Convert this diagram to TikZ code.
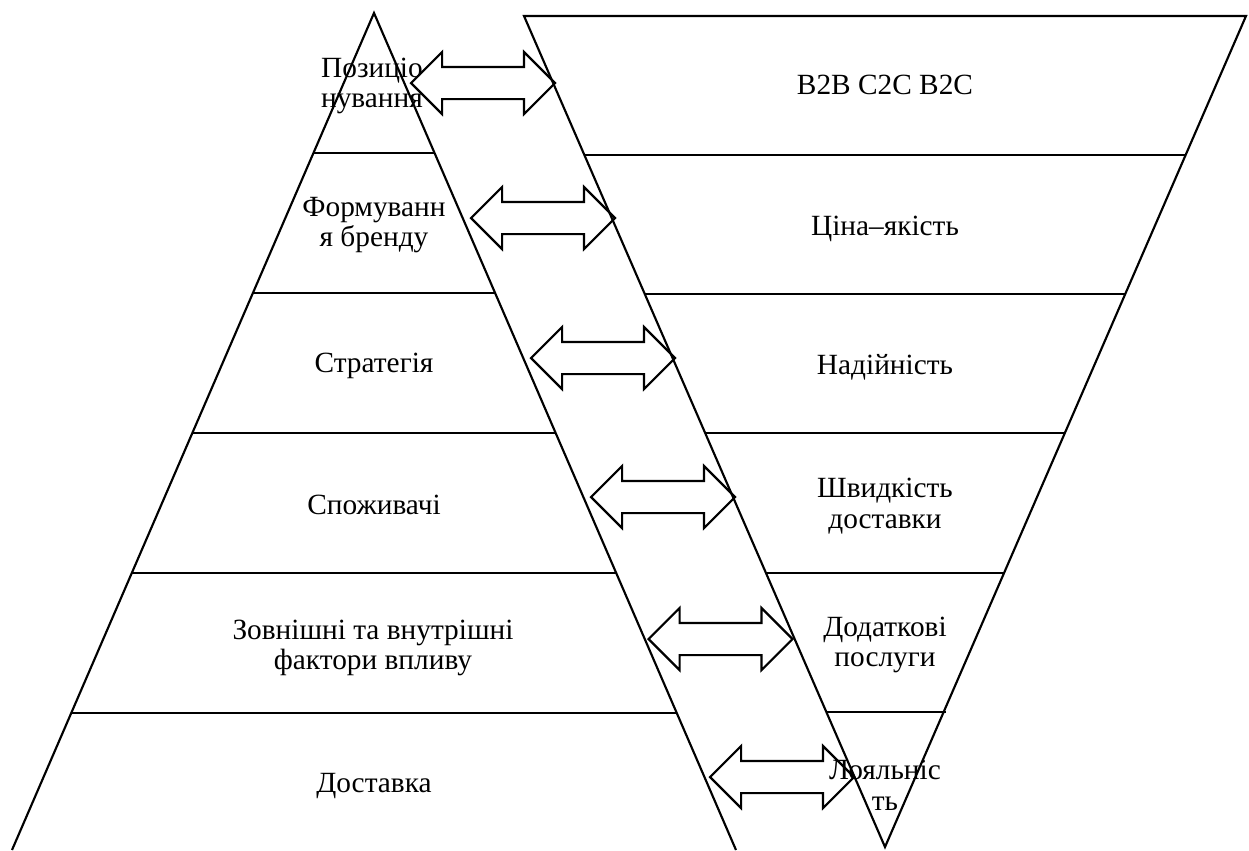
\documentclass[tikz,border=0pt]{standalone}
\usepackage{fontspec}
\setmainfont{Liberation Serif}
\usepackage{tikz}
\usetikzlibrary{shapes.arrows}
\tikzstyle{txt} = [align=center, inner sep=0pt, font=\fontsize{22}{23}\selectfont]
\tikzstyle{arr} = [double arrow, draw, line width=1.6pt, inner xsep=0pt, inner ysep=11.25pt, minimum height=108pt, minimum width=45pt, double arrow head extend=11.25pt]

\begin{document}
\begin{tikzpicture}
    [x=0.75pt, y=-0.75pt, line width=1.6pt]
    \useasboundingbox (0,0) rectangle (1249,850);
    % left triangle
    \draw (12,850) -- (374,13) -- (736,850);
    \draw (313.5,153) -- (434.5,153);
    \draw (252.9,293) -- (495.1,293);
    \draw (192.4,433) -- (555.7,433);
    \draw (131.8,573) -- (616.2,573);
    \draw (71.3,713) -- (676.8,713);
    % inverted triangle
    \draw (524,16) -- (1246,16) -- (885,847) -- cycle;
    \draw (584.4,155) -- (1185.6,155);
    \draw (644.8,294) -- (1125.2,294);
    \draw (705.2,433) -- (1064.8,433);
    \draw (766.0,573) -- (1004.0,573);
    \draw (826.4,712) -- (945.6,712);
    % arrows
    \node[arr] (a1) at (483,83) {};
    \node[arr] (a2) at (543,218) {};
    \node[arr] (a3) at (603,358) {};
    \node[arr] (a4) at (663,497) {};
    \node[arr] (a5) at (720.5,639) {};
    \node[arr] (a6) at (782,777) {};
    % left labels
    \node[txt] (pos) at (372,86) {Позиціо\\нування};
    \node[txt] (brand) at (374,225) {Формуванн\\я бренду};
    \node[txt] (strat) at (374,365.5) {Стратегія};
    \node[txt] (cons) at (374,505) {Споживачі};
    \node[txt] (fact) at (373,648) {Зовнішні та внутрішні\\фактори впливу};
    \node[txt] (deliv) at (374,786.5) {Доставка};
    % right labels
    \node[txt] (model) at (885,85) {B2B C2C B2C};
    \node[txt] (price) at (885,229) {Ціна–якість};
    \node[txt] (rel) at (885,367) {Надійність};
    \node[txt] (speed) at (885,506) {Швидкість\\доставки};
    \node[txt] (extra) at (885,645) {Додаткові\\послуги};
    \node[txt] (loyal) at (885,785) {Лояльніс\\ть};
\end{tikzpicture}
\end{document}
